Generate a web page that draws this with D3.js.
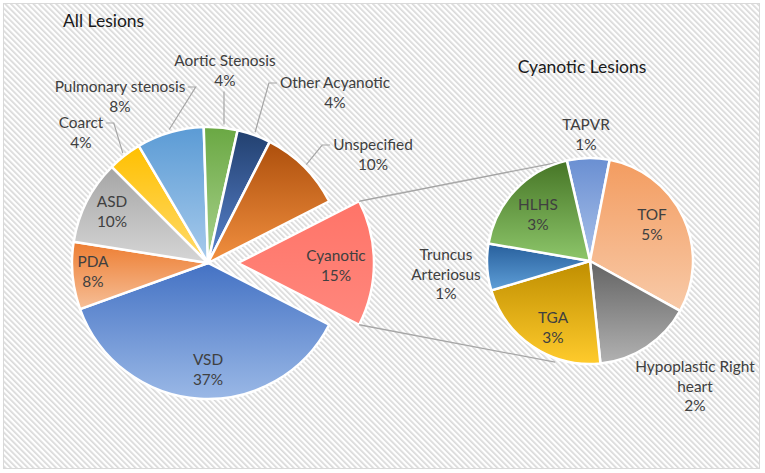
<!DOCTYPE html>
<html>
<head>
<meta charset="utf-8">
<script src="https://cdn.jsdelivr.net/npm/d3@7/dist/d3.min.js"></script>
<style>
  html, body { margin: 0; padding: 0; background: #fff; }
  svg { display: block; }
  text { font-family: Lato, "Open Sans", sans-serif; }
</style>
</head>
<body>
<svg id="chart" width="765" height="473"></svg>
<script>
// ---------- DATA ----------
const mainCategories = ["Cyanotic", "VSD", "PDA", "ASD", "Coarct", "Pulmonary stenosis", "Aortic Stenosis", "Other Acyanotic", "Unspecified"];
const mainValues     = [15, 37, 8, 10, 4, 8, 4, 4, 10];
const subCategories  = ["TAPVR", "TOF", "Hypoplastic Right heart", "TGA", "Truncus Arteriosus", "HLHS"];
const subValues      = [1.0, 4.5, 2.3, 3.3, 1.1, 2.8];
const mainTitle = "All Lesions";
const subTitle  = "Cyanotic Lesions";

// ---------- STYLE / LAYOUT ----------
const W = 765, H = 473;
const mainColors = {
  "Cyanotic": ["#ff7468", "#ff877d"],
  "VSD": ["#4472c4", "#9ab8e6"],
  "PDA": ["#ed7d31", "#f6bf98"],
  "ASD": ["#a5a5a5", "#d6d6d6"],
  "Coarct": ["#ffc000", "#ffdb6e"],
  "Pulmonary stenosis": ["#5b9bd5", "#a8cbec"],
  "Aortic Stenosis": ["#6aa843", "#abd38f"],
  "Other Acyanotic": ["#22406f", "#5a84cf"],
  "Unspecified": ["#ad4f0c", "#f29040"]
};
const subColors = {
  "TAPVR": ["#6a8fd2", "#a9c1e9"],
  "TOF": ["#f39c60", "#f8caa8"],
  "Hypoplastic Right heart": ["#636363", "#b2b2b2"],
  "TGA": ["#bf8e00", "#ffcb2c"],
  "Truncus Arteriosus": ["#275f9c", "#5f9fd8"],
  "HLHS": ["#467526", "#8dc66a"]
};
const mainC = {x: 208, y: 263}, mainR = 136, explode = 30;
const subC = {x: 590, y: 261}, subR = 103;
const deg = Math.PI / 180;

// label layout: [centerX, firstBaselineY, leader side]
const mainLabelLayout = {
  "Cyanotic": {inside: true, x: 336, y: 261},
  "VSD": {inside: true, x: 208, y: 365},
  "PDA": {inside: true, x: 93, y: 267},
  "ASD": {inside: true, x: 112, y: 207},
  "Coarct": {x: 81, y: 128, side: "right"},
  "Pulmonary stenosis": {x: 120, y: 92, side: "right"},
  "Aortic Stenosis": {x: 225, y: 66, side: "bottom"},
  "Other Acyanotic": {x: 335, y: 88, side: "left"},
  "Unspecified": {x: 373, y: 150, side: "left"}
};
const subLabelLayout = {
  "TAPVR": {x: 586, y: 130},
  "TOF": {x: 652, y: 220},
  "Hypoplastic Right heart": {x: 695, y: 372, lines: ["Hypoplastic Right", "heart"]},
  "TGA": {x: 553, y: 323},
  "Truncus Arteriosus": {x: 446, y: 260, lines: ["Truncus", "Arteriosus"]},
  "HLHS": {x: 538, y: 210}
};
const lineH = 19.5;

const svg = d3.select("#chart");
const defs = svg.append("defs");

// hatched background
const pat = defs.append("pattern")
  .attr("id", "hatch").attr("patternUnits", "userSpaceOnUse")
  .attr("width", 4).attr("height", 4)
  .attr("patternTransform", "rotate(-45)");
pat.append("rect").attr("width", 4).attr("height", 4).attr("fill", "#ffffff");
pat.append("rect").attr("x", 0).attr("width", 1.7).attr("height", 4).attr("fill", "#d9d9d9");

svg.append("rect").attr("width", W).attr("height", H).attr("fill", "#fff");
svg.append("rect").attr("x", 3.5).attr("y", 3.5).attr("width", 756).attr("height", 465)
  .attr("fill", "url(#hatch)").attr("stroke", "#d9d9d9").attr("stroke-width", 1);

function addGrad(id, cols) {
  const g = defs.append("linearGradient").attr("id", id)
    .attr("x1", 0).attr("y1", 0).attr("x2", 0).attr("y2", 1);
  g.append("stop").attr("offset", "0%").attr("stop-color", cols[0]);
  g.append("stop").attr("offset", "100%").attr("stop-color", cols[1]);
}

// ---------- MAIN PIE ----------
const cyanFrac = mainValues[0] / d3.sum(mainValues);
const mainStart = Math.PI / 2 - cyanFrac * Math.PI;
const mainPie = d3.pie().sort(null).value(d => d.v)
  .startAngle(mainStart).endAngle(mainStart + 2 * Math.PI);
const mainData = mainPie(mainCategories.map((c, i) => ({c, v: mainValues[i]})));
const mainArc = d3.arc().innerRadius(0).outerRadius(mainR);

const gMain = svg.append("g");
mainData.forEach((d, i) => {
  const id = "gm" + i;
  addGrad(id, mainColors[d.data.c]);
  const mid = (d.startAngle + d.endAngle) / 2;
  const off = d.data.c === "Cyanotic" ? explode : 0;
  const cx = mainC.x + off * Math.sin(mid), cy = mainC.y - off * Math.cos(mid);
  gMain.append("path").attr("d", mainArc(d))
    .attr("transform", `translate(${cx},${cy})`)
    .attr("fill", `url(#${id})`).attr("stroke", "#fff").attr("stroke-width", 2.5)
    .attr("stroke-linejoin", "round");
});

// connector lines from exploded slice to second pie
const cyan = mainData[0];
const cyanCx = mainC.x + explode * Math.sin((cyan.startAngle + cyan.endAngle) / 2);
const cyanCy = mainC.y - explode * Math.cos((cyan.startAngle + cyan.endAngle) / 2);
const pt = (cx, cy, r, a) => [cx + r * Math.sin(a), cy - r * Math.cos(a)];

// ---------- SUB PIE ----------
const subStart = -13 * deg;
const subPie = d3.pie().sort(null).value(d => d.v)
  .startAngle(subStart).endAngle(subStart + 2 * Math.PI);
const subData = subPie(subCategories.map((c, i) => ({c, v: subValues[i]})));
const subArc = d3.arc().innerRadius(0).outerRadius(subR);

const c1 = pt(cyanCx, cyanCy, mainR, cyan.startAngle);
const c2 = pt(cyanCx, cyanCy, mainR, cyan.endAngle);
const s1 = pt(subC.x, subC.y, subR, subStart);
const s2 = pt(subC.x, subC.y, subR + 4, 199 * deg);
svg.append("line").attr("x1", c1[0]).attr("y1", c1[1]).attr("x2", s1[0]).attr("y2", s1[1])
  .attr("stroke", "#a6a6a6").attr("stroke-width", 1.3);
svg.append("line").attr("x1", c2[0]).attr("y1", c2[1]).attr("x2", s2[0]).attr("y2", s2[1])
  .attr("stroke", "#a6a6a6").attr("stroke-width", 1.3);

const gSub = svg.append("g").attr("transform", `translate(${subC.x},${subC.y})`);
subData.forEach((d, i) => {
  const id = "gs" + i;
  addGrad(id, subColors[d.data.c]);
  gSub.append("path").attr("d", subArc(d))
    .attr("fill", `url(#${id})`).attr("stroke", "#fff").attr("stroke-width", 2.5)
    .attr("stroke-linejoin", "round");
});

// ---------- LABELS ----------
const pct = v => Math.round(v) + "%";
function drawLabel(lines, x, y) {
  const t = svg.append("text").attr("text-anchor", "middle")
    .attr("fill", "#404040").attr("font-size", "15.4px");
  lines.forEach((l, k) => t.append("tspan").attr("x", x).attr("y", y + k * lineH).text(l));
  return t;
}

mainData.forEach(d => {
  const L = mainLabelLayout[d.data.c];
  const t = drawLabel([d.data.c, pct(d.data.v)], L.x, L.y);
  if (L.inside) return;
  const first = t.select("tspan").node().getBBox();
  const mid = (d.startAngle + d.endAngle) / 2;
  const e = pt(mainC.x, mainC.y, mainR + 3, mid);
  let pts;
  const ym = L.y - 5;
  if (L.side === "right") {
    const x0 = first.x + first.width + 2;
    pts = [[x0, ym], [x0 + 8, ym], e];
  } else if (L.side === "left") {
    const x0 = first.x - 3;
    pts = [[x0, ym], [x0 - 8, ym], e];
  } else {
    pts = [[L.x - 1, L.y + lineH + 6], [L.x - 1, e[1]]];
  }
  svg.append("path").attr("d", d3.line()(pts)).attr("fill", "none")
    .attr("stroke", "#a6a6a6").attr("stroke-width", 1.2);
});

subData.forEach(d => {
  const L = subLabelLayout[d.data.c];
  const lines = (L.lines || [d.data.c]).concat([pct(d.data.v)]);
  drawLabel(lines, L.x, L.y);
});

// titles
svg.append("text").attr("x", 63).attr("y", 27).attr("fill", "#1a1a1a")
  .attr("font-size", "17.5px").text(mainTitle);
svg.append("text").attr("x", 582).attr("y", 73).attr("text-anchor", "middle").attr("fill", "#1a1a1a")
  .attr("font-size", "17.5px").text(subTitle);
</script>
</body>
</html>
